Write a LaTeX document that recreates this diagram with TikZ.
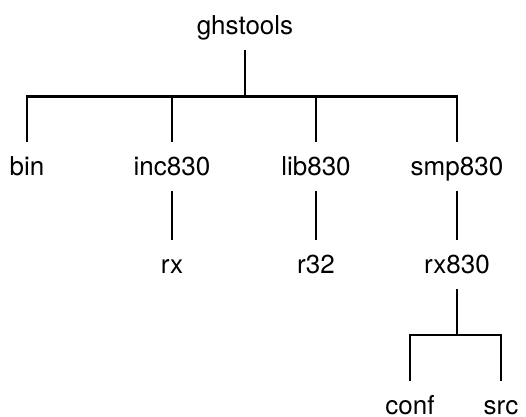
\documentclass[tikz,border=0pt]{standalone}
\usepackage{fontspec}
\setmainfont{TeX Gyre Heros}
\usepackage{tikz}
\usetikzlibrary{positioning, calc}

\begin{document}
\begin{tikzpicture}[
			x=0.5pt, y=-0.5pt,
			every node/.style = {
				inner sep=0pt,
				text height=16.5pt,
				text depth=7.5pt,
				font=\fontsize{13}{15}\selectfont
			},
			rama/.style = {line width=1.3pt}
			]
			
			\useasboundingbox (0,0) rectangle (526,417);
			
			\node[anchor=base] (ghs) at (245,35) {ghstools};
			
			\node[below=46pt of ghs, xshift=-109pt] (bin) {bin};
			\node[below=46pt of ghs, xshift=-36.5pt] (inc) {inc830};
			\node[below=46pt of ghs, xshift=35.5pt] (lib) {lib830};
			\node[below=46pt of ghs, xshift=106pt] (smp) {smp830};
			
			\node[below=24.5pt of inc] (rx) {rx};
			\node[below=24.5pt of lib] (rtd) {r32};
			\node[below=24.5pt of smp] (rxo) {rx830};
			
			\node[below=46pt of rxo, xshift=-23.5pt] (conf) {conf};
			\node[below=46pt of rxo, xshift=22pt] (src) {src};
			
			\coordinate (j1) at ($(ghs.south)!.5!(ghs.south |- bin.north)$);
			\coordinate (j2) at ($(rxo.south)!.5!(rxo.south |- conf.north)$);
			
			\draw[rama] (ghs) -- (j1);
			\foreach \n in {bin, inc, lib, smp}
				\draw[rama] (j1) -| (\n);
			
			\draw[rama] (inc) -- (rx);
			\draw[rama] (lib) -- (rtd);
			\draw[rama] (smp) -- (rxo);
			
			\draw[rama] (rxo) -- (j2);
			\draw[rama] (j2) -| (conf);
			\draw[rama] (j2) -| (src);
			
		\end{tikzpicture}
\end{document}
